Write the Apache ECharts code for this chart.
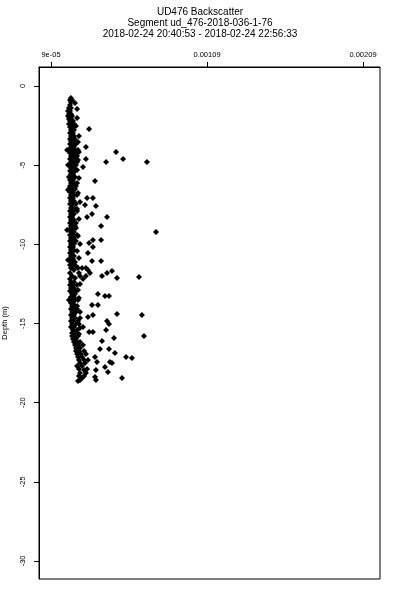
<!DOCTYPE html>
<html>
<head>
<meta charset="utf-8">
<script src="https://cdn.jsdelivr.net/npm/echarts@6/dist/echarts.min.js"></script>
<style>html,body{margin:0;padding:0;background:#fff}#c{width:400px;height:600px}</style>
</head>
<body>
<div id="c"></div>
<script>
const titleLines = ['UD476 Backscatter', 'Segment ud_476-2018-036-1-76', '2018-02-24 20:40:53 - 2018-02-24 22:56:33'];
const xTickValues = [0.00009, 0.00109, 0.00209];
const xTickLabels = ['9e-05', '0.00109', '0.00209'];
const yTickValues = [0, -5, -10, -15, -20, -25, -30];
const yAxisName = 'Depth (m)';

// [backscatter, depth (m)] — dense column of samples
const columnPoints = [
[2.18e-4,-0.76],[2.12e-4,-0.88],[2.25e-4,-0.88],[2.18e-4,-1.01],[2.12e-4,-1.20],
[2.05e-4,-1.39],[2.18e-4,-1.39],[1.99e-4,-1.58],[2.12e-4,-1.58],[2.05e-4,-1.77],[2.18e-4,-1.77],
[1.99e-4,-1.90],[2.12e-4,-1.90],[2.25e-4,-1.90],[2.05e-4,-2.09],[2.18e-4,-2.09],[2.12e-4,-2.21],[2.31e-4,-2.21],
[2.05e-4,-2.40],[2.25e-4,-2.40],[2.37e-4,-2.40],[2.12e-4,-2.59],[2.25e-4,-2.59],[2.18e-4,-2.78],[2.37e-4,-2.78],
[2.12e-4,-2.97],[2.31e-4,-2.97],[2.18e-4,-3.16],[2.37e-4,-3.16],[2.12e-4,-3.35],[2.25e-4,-3.35],[2.44e-4,-3.35],
[2.18e-4,-3.47],[2.37e-4,-3.47],[2.12e-4,-3.66],[2.31e-4,-3.66],[2.50e-4,-3.66],[2.18e-4,-3.85],[2.37e-4,-3.85],
[2.05e-4,-4.04],[2.25e-4,-4.04],[2.44e-4,-4.04],[2.63e-4,-4.04],[2.12e-4,-4.23],[2.31e-4,-4.23],[2.50e-4,-4.23],
[2.18e-4,-4.42],[2.37e-4,-4.42],[2.57e-4,-4.42],[2.12e-4,-4.61],[2.25e-4,-4.61],[2.44e-4,-4.61],
[2.18e-4,-4.80],[2.37e-4,-4.80],[2.57e-4,-4.80],[2.12e-4,-4.99],[2.31e-4,-4.99],[2.50e-4,-4.99],
[2.18e-4,-5.18],[2.37e-4,-5.18],[2.12e-4,-5.37],[2.25e-4,-5.37],[2.44e-4,-5.37],[2.18e-4,-5.56],[2.31e-4,-5.56],
[2.05e-4,-5.75],[2.25e-4,-5.75],[2.44e-4,-5.75],[2.12e-4,-5.94],[2.31e-4,-5.94],[2.18e-4,-6.13],[2.37e-4,-6.13],[2.57e-4,-6.13],
[2.12e-4,-6.32],[2.25e-4,-6.32],[2.05e-4,-6.51],[2.25e-4,-6.51],[2.44e-4,-6.51],[2.12e-4,-6.70],[2.31e-4,-6.70],
[2.18e-4,-6.89],[2.37e-4,-6.89],[2.57e-4,-6.89],[2.12e-4,-7.08],[2.31e-4,-7.08],[2.18e-4,-7.27],[2.37e-4,-7.27],
[2.12e-4,-7.45],[2.25e-4,-7.45],[2.50e-4,-7.45],[2.18e-4,-7.71],[2.37e-4,-7.71],[2.12e-4,-7.90],[2.31e-4,-7.90],[2.57e-4,-7.90],
[2.18e-4,-8.09],[2.37e-4,-8.09],[2.12e-4,-8.28],[2.25e-4,-8.28],[2.18e-4,-8.47],[2.37e-4,-8.47],
[2.12e-4,-8.65],[2.31e-4,-8.65],[2.50e-4,-8.65],[2.18e-4,-8.84],[2.44e-4,-8.84],[2.12e-4,-9.03],[2.25e-4,-9.03],
[2.18e-4,-9.22],[2.37e-4,-9.22],[2.12e-4,-9.41],[2.31e-4,-9.41],[2.57e-4,-9.41],[2.18e-4,-9.60],[2.37e-4,-9.60],
[2.12e-4,-9.79],[2.25e-4,-9.79],[2.50e-4,-9.79],[2.18e-4,-9.98],[2.37e-4,-9.98],[2.12e-4,-10.17],[2.31e-4,-10.17],
[2.18e-4,-10.36],[2.37e-4,-10.36],[2.12e-4,-10.55],[2.25e-4,-10.55],[2.18e-4,-10.74],[2.37e-4,-10.74],
[2.12e-4,-10.93],[2.31e-4,-10.93],[2.18e-4,-11.12],[2.44e-4,-11.12],[2.12e-4,-11.31],[2.31e-4,-11.31],
[2.18e-4,-11.50],[2.63e-4,-11.50],[2.89e-4,-11.50],[3.14e-4,-11.50],[2.37e-4,-11.62],[3.27e-4,-11.62],
[2.12e-4,-11.81],[2.69e-4,-11.81],[3.40e-4,-11.81],[2.25e-4,-12.00],[2.76e-4,-12.00],[3.14e-4,-12.00],
[2.44e-4,-12.13],[2.12e-4,-12.19],[2.95e-4,-12.19],[2.18e-4,-12.38],[2.37e-4,-12.38],
[2.12e-4,-12.57],[2.31e-4,-12.57],[2.57e-4,-12.57],[2.18e-4,-12.76],[2.37e-4,-12.76],
[2.12e-4,-12.95],[2.25e-4,-12.95],[2.50e-4,-12.95],[2.25e-4,-13.14],[2.44e-4,-13.14],[2.18e-4,-13.33],[2.37e-4,-13.33],
[2.25e-4,-13.52],[2.44e-4,-13.52],[2.63e-4,-13.52],[2.18e-4,-13.71],[2.31e-4,-13.71],[2.25e-4,-13.90],[2.44e-4,-13.90],
[2.18e-4,-14.09],[2.37e-4,-14.09],[2.57e-4,-14.09],[2.25e-4,-14.28],[2.50e-4,-14.28],[2.18e-4,-14.47],[2.37e-4,-14.47],
[2.25e-4,-14.66],[2.44e-4,-14.66],[2.76e-4,-14.66],[2.18e-4,-14.85],[2.31e-4,-14.85],
[2.25e-4,-15.04],[2.50e-4,-15.04],[2.69e-4,-15.04],[2.18e-4,-15.22],[2.37e-4,-15.22],[2.95e-4,-15.22],
[2.31e-4,-15.41],[2.57e-4,-15.41],[2.25e-4,-15.60],[2.44e-4,-15.60],[2.25e-4,-15.79],[2.44e-4,-15.79],[2.63e-4,-15.79],
[2.31e-4,-15.98],[2.50e-4,-15.98],[2.37e-4,-16.17],[2.57e-4,-16.17],[2.76e-4,-16.17],
[2.44e-4,-16.36],[2.63e-4,-16.36],[2.95e-4,-16.36],[2.50e-4,-16.55],[2.76e-4,-16.55],
[2.50e-4,-16.74],[2.69e-4,-16.74],[3.02e-4,-16.74],[2.57e-4,-16.93],[2.82e-4,-16.93],[3.14e-4,-16.93],
[2.63e-4,-17.12],[2.89e-4,-17.12],[2.69e-4,-17.31],[3.02e-4,-17.31],[3.27e-4,-17.31],
[2.76e-4,-17.50],[3.08e-4,-17.50],[2.57e-4,-17.69],[2.89e-4,-17.69],[2.69e-4,-17.88],[3.21e-4,-17.88],
[3.02e-4,-17.94],[2.76e-4,-18.13],[3.14e-4,-18.13],[2.69e-4,-18.32],[3.02e-4,-18.32],[2.89e-4,-18.45],
[2.76e-4,-18.57],[2.63e-4,-18.64],
[2.44e-4,-1.07],[2.57e-4,-2.02],[2.50e-4,-2.53],[2.63e-4,-3.54],[2.69e-4,-4.17],[2.63e-4,-4.67],
[2.57e-4,-5.31],[2.69e-4,-5.81],[2.50e-4,-6.32],[2.63e-4,-6.76],[2.76e-4,-7.33],[2.57e-4,-7.77],
[2.69e-4,-8.40],[2.50e-4,-8.97],[2.63e-4,-9.48],[2.76e-4,-9.98],[2.57e-4,-10.42],[2.69e-4,-10.87],
[2.50e-4,-11.37],[2.76e-4,-12.51],[2.63e-4,-12.89],[2.69e-4,-13.39],[2.57e-4,-13.90],[2.76e-4,-14.28],
[2.63e-4,-14.85],[2.76e-4,-15.28],[2.69e-4,-15.67],
[1.93e-4,-4.04],[1.99e-4,-4.99],[1.99e-4,-6.57],[1.93e-4,-9.10],[1.99e-4,-10.99],[2.05e-4,-13.52]
];

// [backscatter, depth (m)] — scattered higher returns
const scatterPoints = [
[2.57e-4,-1.45],[3.34e-4,-2.72],[2.69e-4,-3.16],[3.14e-4,-3.85],[5.07e-4,-4.17],
[3.14e-4,-4.61],[5.52e-4,-4.61],[4.43e-4,-4.80],[7.05e-4,-4.80],[2.95e-4,-5.12],[3.72e-4,-6.00],
[3.21e-4,-7.08],[3.59e-4,-7.08],[3.08e-4,-7.52],[3.78e-4,-7.58],[3.53e-4,-8.09],[3.21e-4,-8.28],[4.49e-4,-8.28],
[4.11e-4,-8.84],[7.63e-4,-9.22],[3.59e-4,-9.73],[4.11e-4,-9.73],[3.34e-4,-9.92],[3.59e-4,-10.17],[3.27e-4,-10.55],
[3.53e-4,-11.06],[4.11e-4,-11.06],[4.81e-4,-11.69],[4.49e-4,-11.81],[4.17e-4,-12.00],[6.54e-4,-12.07],[5.13e-4,-12.13],
[3.91e-4,-13.14],[4.36e-4,-13.27],[4.62e-4,-13.27],[3.53e-4,-13.83],[3.91e-4,-13.83],[5.13e-4,-14.40],
[3.59e-4,-14.47],[6.73e-4,-14.47],[3.27e-4,-14.59],[4.49e-4,-14.85],[4.62e-4,-15.04],[4.43e-4,-15.41],
[3.34e-4,-15.54],[3.59e-4,-15.54],[6.86e-4,-15.79],[4.94e-4,-15.92],[4.17e-4,-16.11],[4.04e-4,-16.61],[4.62e-4,-16.61],
[5.00e-4,-16.87],[3.72e-4,-17.12],[5.71e-4,-17.12],[6.09e-4,-17.18],[3.85e-4,-17.44],[4.68e-4,-17.44],[4.81e-4,-17.50],
[4.36e-4,-17.75],[3.78e-4,-17.94],[4.55e-4,-18.07],[3.72e-4,-18.38],[5.45e-4,-18.45],[3.78e-4,-18.57]
];

const font = 'Liberation Sans, Arial, Helvetica, sans-serif';
function nearestLabel(v, values, labels) {
  let best = 0;
  for (let i = 1; i < values.length; i++) if (Math.abs(values[i] - v) < Math.abs(values[best] - v)) best = i;
  return labels[best];
}

const chart = echarts.init(document.getElementById('c'), null, {renderer: 'canvas'});
chart.setOption({
  animation: false,
  backgroundColor: '#ffffff',
  title: {
    text: titleLines.join('\n'),
    left: 'center', top: 2,
    textStyle: {fontFamily: font, fontSize: 10, fontWeight: 'normal', color: '#000', lineHeight: 11}
  },
  grid: {left: 39, right: 20, top: 67, bottom: 21, containLabel: false, outerBoundsMode: 'none',
    show: true, borderColor: '#000', borderWidth: 1, backgroundColor: 'transparent'},
  xAxis: {
    type: 'value', position: 'top', min: 1.31e-5, max: 2.199e-3,
    axisLine: {show: true, onZero: false, lineStyle: {color: '#000', width: 1}},
    axisTick: {show: true, inside: false, length: 5, customValues: xTickValues, lineStyle: {color: '#000'}},
    axisLabel: {show: true, customValues: xTickValues, margin: 8, fontSize: 7.5, fontFamily: font, color: '#000',
      formatter: v => nearestLabel(v, xTickValues, xTickLabels)},
    splitLine: {show: false}
  },
  yAxis: {
    type: 'value', min: -31.14, max: 1.2,
    name: yAxisName, nameLocation: 'middle', nameGap: 30, nameRotate: 90,
    nameTextStyle: {fontFamily: font, fontSize: 7.5, color: '#000'},
    axisLine: {show: true, onZero: false, lineStyle: {color: '#000', width: 1}},
    axisTick: {show: true, inside: false, length: 5, customValues: yTickValues, lineStyle: {color: '#000'}},
    axisLabel: {show: true, customValues: yTickValues, rotate: 90, margin: 12, fontSize: 7.5, fontFamily: font, color: '#000',
      formatter: v => String(Math.round(v))},
    splitLine: {show: false}
  },
  series: [
    {type: 'scatter', data: columnPoints, symbol: 'diamond', symbolSize: 6, itemStyle: {color: '#000', opacity: 1}},
    {type: 'scatter', data: scatterPoints, symbol: 'diamond', symbolSize: 6, itemStyle: {color: '#000', opacity: 1}}
  ]
});
</script>
</body>
</html>
